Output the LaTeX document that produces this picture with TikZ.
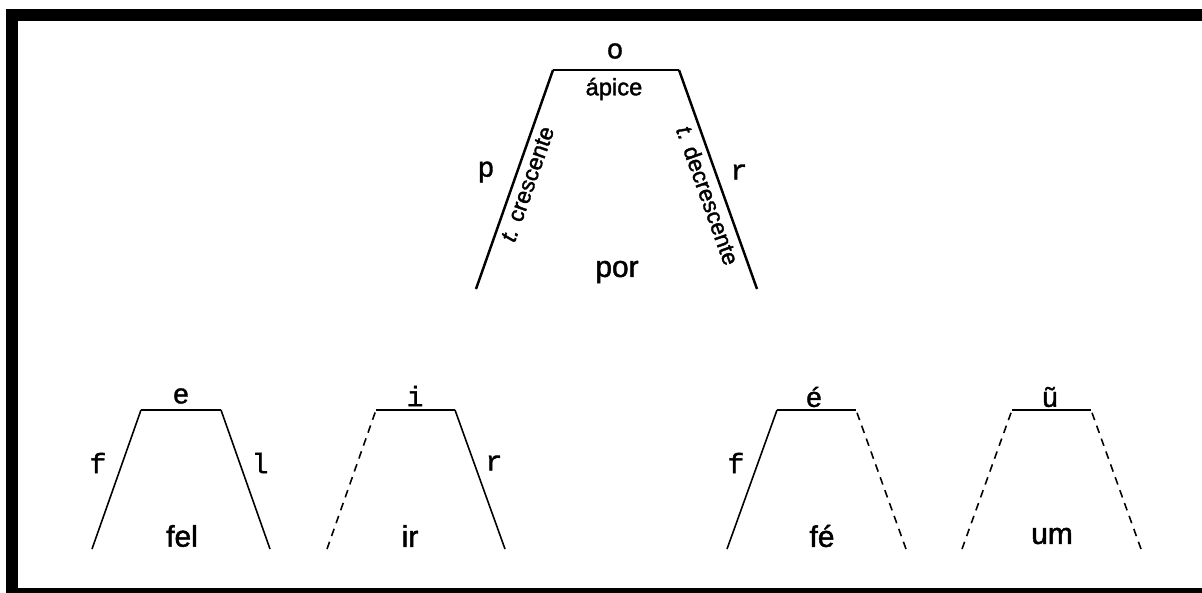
\documentclass[tikz,border=0pt]{standalone}
\usepackage{fontspec}
\setmainfont{Liberation Sans}[FakeBold=1.6]
\setmonofont{Liberation Mono}[FakeBold=1.2]
\usetikzlibrary{positioning}
\tikzset{
  bigleg/.style={line width=1.4pt, line cap=butt},
  leg/.style={line width=0.9pt},
  dashleg/.style={line width=0.9pt, dash pattern=on 4.4pt off 3.4pt},
  seg/.style={font=\ttfamily\fontsize{16}{16}\selectfont, inner sep=1pt},
  word/.style={font=\fontsize{17}{17}\selectfont, inner sep=1pt},
  tag/.style={font=\fontsize{13.5}{13.5}\selectfont, inner sep=1pt}
}

\begin{document}
\begin{tikzpicture}[x=0.02cm, y=-0.02cm]
    \clip (0,0) rectangle (1202,592);
    \useasboundingbox (0,0) rectangle (1202,592);
    \draw[line width=6.8pt] (12,15) rectangle (1214,594);

    % por
    \coordinate (porTL) at (553,70);
    \coordinate (porTR) at (679,70);
    \coordinate (porBL) at (476,289);
    \coordinate (porBR) at (757,289);

    \draw[bigleg] (porBL) -- (porTL)
      node[tag, font=\fontsize{13}{13}\selectfont, pos=0.5, sloped, below=2pt] {\textit{t.} crescente};
    \draw[bigleg] (porTL) -- (porTR);
    \draw[bigleg] (porTR) -- (porBR)
      node[tag, font=\fontsize{13}{13}\selectfont, pos=0.55, sloped, below=2pt] {\textit{t.} decrescente};

    \node[seg] (o) at (615,51) {o};
    \node[tag] (apice) at (614,89) {ápice};
    \node[seg] (p) at (486,172) {p};
    \node[seg] (r) at (739,172) {r};
    \node[word] (por) at (617,272) {por};

    % fel
    \coordinate (felTL) at (141,410);
    \coordinate (felTR) at (221,410);
    \coordinate (felBL) at (92,549);
    \coordinate (felBR) at (270,549);

    \draw[leg] (felBL) -- (felTL);
    \draw[leg] (felTL) -- (felTR);
    \draw[leg] (felTR) -- (felBR);

    \node[seg] (fe) at (181,396) {e};
    \node[seg] (ff) at (98,463) {f};
    \node[seg] (fl) at (260,463) {l};
    \node[word] (fel) at (182,536) {fel};

    % ir
    \coordinate (irTL) at (376,410);
    \coordinate (irTR) at (455,410);
    \coordinate (irBL) at (327,549);
    \coordinate (irBR) at (505,549);

    \draw[dashleg] (irBL) -- (irTL);
    \draw[leg] (irTL) -- (irTR);
    \draw[leg] (irTR) -- (irBR);

    \node[seg] (ii) at (415,396) {i};
    \node[seg] (ir) at (494,463) {r};
    \node[word] (irw) at (410,536) {ir};

    % fe
    \coordinate (feTL) at (777,410);
    \coordinate (feTR) at (856,410);
    \coordinate (feBL) at (727,549);
    \coordinate (feBR) at (906,549);

    \draw[leg] (feBL) -- (feTL);
    \draw[leg] (feTL) -- (feTR);
    \draw[dashleg] (feBR) -- (feTR);

    \node[seg] (ee) at (814,397) {é};
    \node[seg] (ef) at (736,463) {f};
    \node[word] (few) at (822,536) {fé};

    % um
    \coordinate (umTL) at (1012,410);
    \coordinate (umTR) at (1091,410);
    \coordinate (umBL) at (962,549);
    \coordinate (umBR) at (1141,549);

    \draw[dashleg] (umBL) -- (umTL);
    \draw[leg] (umTL) -- (umTR);
    \draw[dashleg] (umBR) -- (umTR);

    \node[seg] (uu) at (1050,397) {ũ};
    \node[word] (umw) at (1052,536) {um};
\end{tikzpicture}
\end{document}
